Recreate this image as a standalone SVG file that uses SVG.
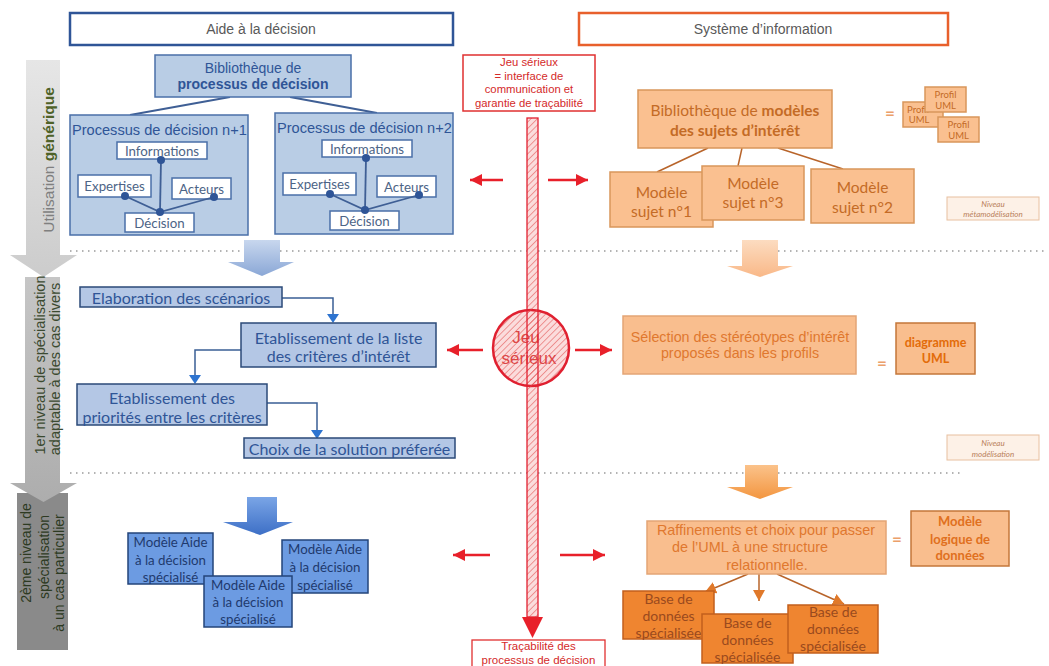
<svg xmlns="http://www.w3.org/2000/svg" width="1049" height="666" viewBox="0 0 1049 666">
<defs>
<style>
text{dominant-baseline:central}
.ar{font-family:"Liberation Sans",Arial,sans-serif}
.lt{font-family:Lato,"Open Sans",sans-serif}
.mid{text-anchor:middle}
.b{font-weight:bold}
.bl0{fill:#b9cde5;stroke:#4a6fa8;stroke-width:1.5}
.wb{fill:#fff;stroke:#4a6fa8;stroke-width:1.5}
.bl1{fill:#b4c7e5;stroke:#2b4a78;stroke-width:1.5}
.bl2{fill:#6c9be2;stroke:#23447a;stroke-width:1.5}
.or0{fill:#fac090;stroke:#d9965b;stroke-width:1.5}
.or1{fill:#f9be8e;stroke:#e3a576;stroke-width:1.5}
.orb{fill:#f9be8e;stroke:#c4773a;stroke-width:1.5}
.ord{fill:#ef8530;stroke:#c25f1c;stroke-width:1.5}
.niv{fill:#fdf1e7;stroke:#e8c0a0;stroke-width:1}
.tb{fill:#2f5597}
.ti{fill:#4d6486}
.tl2{fill:#1f3a6e}
.to0{fill:#c46b26}
.to1{fill:#e0782e}
.tod{fill:#9a4a1e}
.tr{fill:#d42a2a}
.tn{fill:#b9805a;font-style:italic}
.dot{fill:#2f5597}
.dl{stroke:#3f5f95;stroke-width:1.8;fill:none}
.el{stroke:#3a5f95;stroke-width:1.5;fill:none}
.eh{fill:#2e74d0}
.rl{stroke:#e8202a;stroke-width:2.5;fill:none}
.ol{stroke:#b8642a;stroke-width:1.5;fill:none}
.sep{stroke:#9a9a9a;stroke-width:1.3;stroke-dasharray:1.5 4.5}
.f1{font-size:16px}
</style>
<pattern id="hatchBg" width="5" height="5" patternUnits="userSpaceOnUse" patternTransform="rotate(45)">
<rect width="5" height="5" fill="#fbdcdc"/>
</pattern>
<pattern id="hatch" width="4.5" height="4.5" patternUnits="userSpaceOnUse" patternTransform="rotate(45)">
<line x1="0" y1="0" x2="0" y2="4.5" stroke="#e04a4a" stroke-width="1"/>
</pattern>
<linearGradient id="g1" x1="0" y1="0" x2="0" y2="1"><stop offset="0" stop-color="#e6e6e6"/><stop offset="1" stop-color="#cccccc"/></linearGradient>
<linearGradient id="g2" x1="0" y1="0" x2="0" y2="1"><stop offset="0" stop-color="#c6c6c6"/><stop offset="1" stop-color="#adadad"/></linearGradient>
<linearGradient id="gb1" x1="0" y1="0" x2="0" y2="1"><stop offset="0" stop-color="#c8d7ee"/><stop offset="1" stop-color="#8aa7d6"/></linearGradient>
<linearGradient id="gb2" x1="0" y1="0" x2="0" y2="1"><stop offset="0" stop-color="#7aa5e6"/><stop offset="1" stop-color="#3d6fc6"/></linearGradient>
<linearGradient id="go1" x1="0" y1="0" x2="0" y2="1"><stop offset="0" stop-color="#fcdcc0"/><stop offset="1" stop-color="#f9b888"/></linearGradient>
<linearGradient id="go2" x1="0" y1="0" x2="0" y2="1"><stop offset="0" stop-color="#fbc28a"/><stop offset="1" stop-color="#f39640"/></linearGradient>
<marker id="rarr" markerUnits="userSpaceOnUse" markerWidth="13" markerHeight="13" refX="12" refY="6" orient="auto"><path d="M0,0 L12,6 L0,12 Z" fill="#e8202a"/></marker>
<marker id="oarr" markerUnits="userSpaceOnUse" markerWidth="13" markerHeight="13" refX="11" refY="6" orient="auto"><path d="M0,0 L11,6 L0,12 Z" fill="#e0792a"/></marker>
</defs>

<rect width="1049" height="666" fill="#fff"/>

<g id="level-bar">
<rect x="17" y="493" width="51" height="157" fill="#8a8a8a"/>
<path d="M25,277 H60 V483 H77 L43.5,502 L10,483 H25 Z" fill="url(#g2)"/>
<path d="M26,60 H60 V255 H77 L43.5,277 L10,255 H26 Z" fill="url(#g1)"/>
<text class="ar mid" font-size="15.5" fill="#7f7f7f" transform="translate(48,160) rotate(-90)">Utilisation <tspan class="b" fill="#4f6228">générique</tspan></text>
<text class="ar mid" font-size="14.5" fill="#3b4a30" transform="translate(40,365) rotate(-90)">1er niveau de spécialisation</text>
<text class="ar mid" font-size="14.5" fill="#3b4a30" transform="translate(55,369) rotate(-90)">adaptable à des cas divers</text>
<text class="ar mid" font-size="14" fill="#2d3a22" transform="translate(26,553) rotate(-90)">2ème niveau de</text>
<text class="ar mid" font-size="14" fill="#2d3a22" transform="translate(44,557) rotate(-90)">spécialisation</text>
<text class="ar mid" font-size="14" fill="#2d3a22" transform="translate(59,573) rotate(-90)">à un cas particulier</text>
</g>

<g id="separators">
<line class="sep" x1="70" y1="251" x2="1045" y2="251"/>
<line class="sep" x1="70" y1="473" x2="960" y2="473" stroke="#b0b0b0"/>
</g>

<g id="hdr-aide">
<rect x="70" y="13" width="383" height="32" fill="#fff" stroke="#2f5597" stroke-width="2.5"/>
<text class="ar mid" x="261" y="29" font-size="14" fill="#595959">Aide à la décision</text>
</g>
<g id="hdr-si">
<rect x="579" y="13" width="369" height="32" fill="#fff" stroke="#e8602c" stroke-width="2.5"/>
<text class="ar mid" x="763" y="29" font-size="14" fill="#595959">Système d’information</text>
</g>

<g id="connectors">
<line class="dl" x1="230" y1="97" x2="130" y2="115"/>
<line class="dl" x1="290" y1="97" x2="377" y2="113"/>
<line class="ol" x1="708" y1="148" x2="657" y2="172"/>
<line class="ol" x1="742" y1="148" x2="738" y2="166"/>
<line class="ol" x1="778" y1="148" x2="843" y2="169"/>
<polyline class="el" points="282,298 333,298 333,314"/>
<polygon class="eh" points="327,314 339,314 333,323"/>
<polyline class="el" points="241,350 195,350 195,375"/>
<polygon class="eh" points="189,375 201,375 195,384"/>
<polyline class="el" points="267,403 317,403 317,430"/>
<polygon class="eh" points="311,430 323,430 317,439"/>
<line class="rl" x1="503" y1="180" x2="470" y2="180" marker-end="url(#rarr)"/>
<line class="rl" x1="548" y1="180" x2="588" y2="180" marker-end="url(#rarr)"/>
<line class="rl" x1="483" y1="350" x2="447" y2="350" marker-end="url(#rarr)"/>
<line class="rl" x1="575" y1="350" x2="612" y2="350" marker-end="url(#rarr)"/>
<line class="rl" x1="490" y1="555" x2="453" y2="555" marker-end="url(#rarr)"/>
<line class="rl" x1="560" y1="555" x2="605" y2="555" marker-end="url(#rarr)"/>
<line class="ol" x1="748" y1="574" x2="705" y2="592" marker-end="url(#oarr)"/>
<line class="ol" x1="759" y1="574" x2="759" y2="601" marker-end="url(#oarr)"/>
<line class="ol" x1="777" y1="574" x2="844" y2="604" marker-end="url(#oarr)"/>
<path d="M244,240 H280 V262 H294 L262,276 L228,262 H244 Z" fill="url(#gb1)"/>
<path d="M742,240 H778 V266 H793 L760,277 L727,266 H742 Z" fill="url(#go1)"/>
<path d="M247,497 H277 V522 H293 L260,535 L223,522 H247 Z" fill="url(#gb2)"/>
<path d="M745,465 H778 V487 H793 L760,499 L727,487 H745 Z" fill="url(#go2)"/>
</g>

<g id="bib-processus">
<rect class="bl0" x="155" y="55" width="196" height="42"/>
<text class="ar mid tb" x="253" y="68" font-size="14">Bibliothèque de</text>
<text class="ar mid tb b" x="253" y="84" font-size="14">processus de décision</text>
</g>

<g id="processus-n1">
<rect class="bl0" x="70" y="115" width="178" height="120"/>
<text class="ar tb" x="72" y="130" font-size="14.6">Processus de décision n+1</text>
<rect class="wb" x="117" y="142" width="90" height="17"/>
<text class="lt mid ti" x="162" y="150.5" font-size="13.3">Informations</text>
<rect class="wb" x="78" y="175" width="73" height="22"/>
<text class="lt mid ti" x="114.5" y="186" font-size="13.3">Expertises</text>
<rect class="wb" x="172" y="178" width="59" height="21"/>
<text class="lt mid ti" x="201.5" y="188.5" font-size="13.3">Acteurs</text>
<rect class="wb" x="125" y="213" width="69" height="19"/>
<text class="lt mid ti" x="159.5" y="222.5" font-size="13.3">Décision</text>
<polyline class="dl" points="161,160 160,212"/>
<polyline class="dl" points="125,196 160,212 214,197"/>
<circle class="dot" cx="161" cy="160" r="4"/>
<circle class="dot" cx="125" cy="196" r="4"/>
<circle class="dot" cx="214" cy="197" r="4"/>
<circle class="dot" cx="160" cy="212" r="4"/>
</g>

<g id="processus-n2">
<rect class="bl0" x="275" y="113" width="178" height="121"/>
<text class="ar tb" x="277" y="128" font-size="14.6">Processus de décision n+2</text>
<rect class="wb" x="322" y="140" width="90" height="17"/>
<text class="lt mid ti" x="367" y="148.5" font-size="13.3">Informations</text>
<rect class="wb" x="283" y="173" width="73" height="22"/>
<text class="lt mid ti" x="319.5" y="184" font-size="13.3">Expertises</text>
<rect class="wb" x="377" y="176" width="59" height="21"/>
<text class="lt mid ti" x="406.5" y="186.5" font-size="13.3">Acteurs</text>
<rect class="wb" x="330" y="211" width="69" height="19"/>
<text class="lt mid ti" x="364.5" y="220.5" font-size="13.3">Décision</text>
<polyline class="dl" points="366,158 365,210"/>
<polyline class="dl" points="330,194 365,210 419,195"/>
<circle class="dot" cx="366" cy="158" r="4"/>
<circle class="dot" cx="330" cy="194" r="4"/>
<circle class="dot" cx="419" cy="195" r="4"/>
<circle class="dot" cx="365" cy="210" r="4"/>
</g>

<g id="jeu-serieux-box">
<rect x="463" y="55" width="132" height="56" fill="#fff" stroke="#e03030" stroke-width="1.5"/>
<text class="ar mid tr" x="529" y="62" font-size="11.3">Jeu sérieux</text>
<text class="ar mid tr" x="529" y="76" font-size="11.3">= interface de</text>
<text class="ar mid tr" x="529" y="89" font-size="11.3">communication et</text>
<text class="ar mid tr" x="529" y="103" font-size="11.3">garantie de traçabilité</text>
</g>

<g id="jeu-serieux-axis">
<circle cx="531" cy="348" r="38" fill="url(#hatchBg)"/>
<rect x="527" y="118" width="11" height="499" fill="url(#hatchBg)"/>
<text class="ar mid" x="526" y="337" font-size="17" fill="#dc4545">Jeu</text>
<text class="ar mid" x="529" y="358" font-size="17" fill="#dc4545">sérieux</text>
<circle cx="531" cy="348" r="38" fill="url(#hatch)" stroke="#e02030" stroke-width="2.5"/>
<rect x="527" y="118" width="11" height="499" fill="url(#hatch)" stroke="#e02030" stroke-width="1.3"/>
<polygon points="522,617 543,617 532.5,638" fill="#e8202a"/>
</g>

<g id="tracabilite">
<rect x="472" y="640" width="133" height="30" fill="#fff" stroke="#e03030" stroke-width="1.3"/>
<text class="ar mid tr" x="538.5" y="646" font-size="11.5">Traçabilité des</text>
<text class="ar mid tr" x="538.5" y="660" font-size="11.5">processus de décision</text>
</g>

<g id="elaboration">
<rect class="bl1" x="80" y="287" width="202" height="20"/>
<text class="lt mid tb f1" x="181" y="297.5">Elaboration des scénarios</text>
</g>
<g id="liste-criteres">
<rect class="bl1" x="241" y="323" width="195" height="44"/>
<text class="lt mid tb f1" x="338.5" y="337">Etablissement de la liste</text>
<text class="lt mid tb f1" x="338.5" y="355">des critères d’intérêt</text>
</g>
<g id="priorites">
<rect class="bl1" x="77" y="384" width="190" height="41"/>
<text class="lt mid tb f1" x="172" y="397">Etablissement des</text>
<text class="lt mid tb f1" x="172" y="416">priorités entre les critères</text>
</g>
<g id="choix">
<rect class="bl1" x="244" y="438" width="211" height="20"/>
<text class="lt mid tb f1" x="349.5" y="448">Choix de la solution préferée</text>
</g>

<g id="modele-aide-1">
<rect class="bl2" x="128" y="533" width="85" height="51"/>
<text class="lt mid tl2" x="170.5" y="542" font-size="13.3">Modèle Aide</text>
<text class="lt mid tl2" x="170.5" y="560" font-size="13.3">à la décision</text>
<text class="lt mid tl2" x="170.5" y="577" font-size="13.3">spécialisé</text>
</g>
<g id="modele-aide-3">
<rect class="bl2" x="282" y="540" width="86" height="53"/>
<text class="lt mid tl2" x="325" y="549" font-size="13.3">Modèle Aide</text>
<text class="lt mid tl2" x="325" y="567" font-size="13.3">à la décision</text>
<text class="lt mid tl2" x="325" y="585" font-size="13.3">spécialisé</text>
</g>
<g id="modele-aide-2">
<rect class="bl2" x="204" y="576" width="88" height="51"/>
<text class="lt mid tl2" x="248" y="585" font-size="13.3">Modèle Aide</text>
<text class="lt mid tl2" x="248" y="602" font-size="13.3">à la décision</text>
<text class="lt mid tl2" x="248" y="619" font-size="13.3">spécialisé</text>
</g>

<g id="bib-modeles">
<rect class="or0" x="638" y="90" width="194" height="58"/>
<text class="lt mid to0" x="735" y="110" font-size="15.5">Bibliothèque de <tspan class="b">modèles</tspan></text>
<text class="lt mid to0 b" x="735" y="130" font-size="15.5">des sujets d’intérêt</text>
</g>
<g id="modele-sujet-1">
<rect class="or0" x="610" y="172" width="103" height="55"/>
<text class="lt mid to0" x="661.5" y="192" font-size="15.5">Modèle</text>
<text class="lt mid to0" x="661.5" y="211" font-size="15.5">sujet n°1</text>
</g>
<g id="modele-sujet-3">
<rect class="or0" x="702" y="166" width="102" height="54"/>
<text class="lt mid to0" x="753" y="183" font-size="15.5">Modèle</text>
<text class="lt mid to0" x="753" y="202" font-size="15.5">sujet n°3</text>
</g>
<g id="modele-sujet-2">
<rect class="or0" x="811" y="169" width="103" height="54"/>
<text class="lt mid to0" x="862.5" y="187" font-size="15.5">Modèle</text>
<text class="lt mid to0" x="862.5" y="207" font-size="15.5">sujet n°2</text>
</g>

<g id="profils-uml">
<text class="lt mid b" x="890" y="112" font-size="17" fill="#eba06a">=</text>
<rect class="or0" x="903" y="102" width="40" height="25"/>
<text class="lt mid to0" x="918" y="109" font-size="9.5">Profil</text>
<text class="lt mid to0" x="919" y="119" font-size="9.5">UML</text>
<rect class="or0" x="925" y="87" width="41" height="25"/>
<text class="lt mid to0" x="945.5" y="94" font-size="9.5">Profil</text>
<text class="lt mid to0" x="945.5" y="105" font-size="9.5">UML</text>
<rect class="or0" x="938" y="117" width="41" height="25"/>
<text class="lt mid to0" x="958.5" y="124" font-size="9.5">Profil</text>
<text class="lt mid to0" x="958.5" y="135" font-size="9.5">UML</text>
</g>

<g id="niveau-meta">
<rect class="niv" x="947" y="197" width="92" height="23"/>
<text class="lt mid tn" x="993" y="204" font-size="8">Niveau</text>
<text class="lt mid tn" x="993" y="214" font-size="8">métamodélisation</text>
</g>

<g id="selection">
<rect class="or1" x="623" y="316" width="233" height="58"/>
<text class="ar mid to1" x="740" y="337" font-size="14.3">Sélection des stéréotypes d’intérêt</text>
<text class="ar mid to1" x="740" y="353" font-size="14.3">proposés dans les profils</text>
</g>
<g id="diagramme-uml">
<text class="lt mid b" x="882" y="362" font-size="17" fill="#eba06a">=</text>
<rect class="orb" x="896" y="323" width="79" height="51"/>
<text class="lt mid b" x="935.5" y="342" font-size="12.5" fill="#e36c09">diagramme</text>
<text class="lt mid b" x="935.5" y="358" font-size="12.5" fill="#e36c09">UML</text>
</g>
<g id="niveau-mod">
<rect class="niv" x="947" y="435" width="92" height="25"/>
<text class="lt mid tn" x="993" y="443" font-size="8">Niveau</text>
<text class="lt mid tn" x="993" y="454" font-size="8">modélisation</text>
</g>

<g id="raffinements">
<rect class="or1" x="647" y="521" width="239" height="53"/>
<text class="ar mid to1" x="766" y="530" font-size="14.4">Raffinements et choix pour passer</text>
<text class="ar mid to1" x="750" y="547" font-size="14.4">de l’UML à une structure</text>
<text class="ar mid to1" x="767" y="565" font-size="14.4">relationnelle.</text>
</g>
<g id="modele-logique">
<text class="lt mid b" x="897" y="538" font-size="17" fill="#eba06a">=</text>
<rect class="orb" x="911" y="511" width="98" height="55"/>
<text class="lt mid b" x="960" y="521" font-size="13" fill="#e07020">Modèle</text>
<text class="lt mid b" x="960" y="539" font-size="13" fill="#e07020">logique de</text>
<text class="lt mid b" x="960" y="555" font-size="13" fill="#e07020">données</text>
</g>

<g id="bdd-1">
<rect class="ord" x="623" y="591" width="91" height="48"/>
<text class="lt mid tod" x="668.5" y="598" font-size="14">Base de</text>
<text class="lt mid tod" x="668.5" y="615" font-size="14">données</text>
<text class="lt mid tod" x="668.5" y="632" font-size="14">spécialisée</text>
</g>
<g id="bdd-2">
<rect class="ord" x="702" y="614" width="91" height="49"/>
<text class="lt mid tod" x="747.5" y="622" font-size="14">Base de</text>
<text class="lt mid tod" x="747.5" y="639" font-size="14">données</text>
<text class="lt mid tod" x="747.5" y="656" font-size="14">spécialisée</text>
</g>
<g id="bdd-3">
<rect class="ord" x="788" y="605" width="90" height="48"/>
<text class="lt mid tod" x="833" y="611" font-size="14">Base de</text>
<text class="lt mid tod" x="833" y="628" font-size="14">données</text>
<text class="lt mid tod" x="833" y="645" font-size="14">spécialisée</text>
</g>
</svg>
